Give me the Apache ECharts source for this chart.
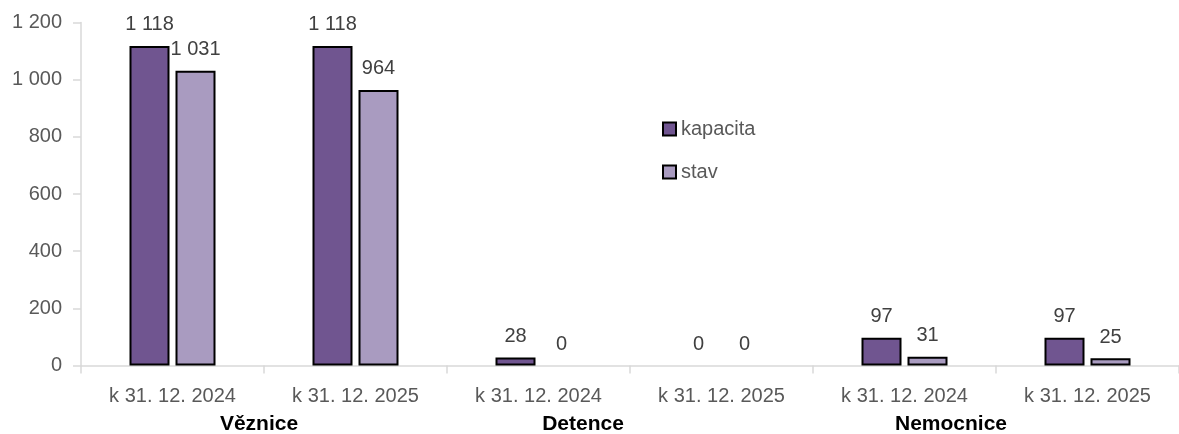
<!DOCTYPE html>
<html>
<head>
<meta charset="utf-8">
<script src="https://cdn.jsdelivr.net/npm/echarts@6/dist/echarts.min.js"></script>
<style>
  html, body { margin: 0; padding: 0; background: #fff; }
  #chart { width: 1179px; height: 434px; }
</style>
</head>
<body>
<div id="chart"></div>
<script>
// Data
const categories = ['k 31. 12. 2024', 'k 31. 12. 2025', 'k 31. 12. 2024', 'k 31. 12. 2025', 'k 31. 12. 2024', 'k 31. 12. 2025'];
const kapacita = [1118, 1118, 28, 0, 97, 97];
const stav = [1031, 964, 0, 0, 31, 25];
const groups = ['Věznice', 'Detence', 'Nemocnice'];
const groupX = [259, 583, 951];

const FONT = '"Liberation Sans", Arial, sans-serif';
const GREY = '#595959';

const fmt = v => String(v).replace(/\B(?=(\d{3})+(?!\d))/g, ' ');

// zero-height bars should not show their border
const toData = arr => arr.map(v => v === 0 ? { value: v, itemStyle: { borderWidth: 0 } } : v);

const chart = echarts.init(document.getElementById('chart'), null, { renderer: 'canvas' });

const label = {
  show: true,
  position: 'top',
  distance: 11,
  color: '#404040',
  fontFamily: FONT,
  fontSize: 20,
  formatter: p => fmt(p.value)
};

chart.setOption({
  animation: false,
  textStyle: { fontFamily: FONT },
  grid: { left: 81, top: 22.5, width: 1110, bottom: 68.5 },
  legend: {
    orient: 'vertical',
    left: 657,
    top: 114,
    itemWidth: 13,
    itemHeight: 13,
    itemGap: 23,
    icon: 'rect',
    textStyle: { color: GREY, fontFamily: FONT, fontSize: 20 },
    data: ['kapacita', 'stav']
  },
  xAxis: {
    type: 'category',
    data: categories,
    axisLine: { lineStyle: { color: '#d9d9d9', width: 1.5 } },
    axisTick: { show: true, length: 8, lineStyle: { color: '#d9d9d9', width: 1.5 } },
    axisLabel: { color: GREY, fontFamily: FONT, fontSize: 20, margin: 21, interval: 0 }
  },
  yAxis: {
    type: 'value',
    min: 0,
    max: 1200,
    interval: 200,
    splitLine: { show: false },
    axisLine: { show: true, lineStyle: { color: '#d9d9d9', width: 1.5 } },
    axisTick: { show: true, length: 8, lineStyle: { color: '#d9d9d9', width: 1.5 } },
    axisLabel: { color: GREY, fontFamily: FONT, fontSize: 20, margin: 19, formatter: fmt }
  },
  series: [
    {
      name: 'kapacita',
      type: 'bar',
      barWidth: 40,
      barGap: '15%',
      itemStyle: { color: '#705590', borderColor: '#000', borderWidth: 2 },
      label: label,
      data: toData(kapacita)
    },
    {
      name: 'stav',
      type: 'bar',
      barWidth: 40,
      itemStyle: { color: '#A99BC0', borderColor: '#000', borderWidth: 2 },
      label: label,
      data: toData(stav)
    }
  ],
  graphic: groups.map((g, i) => ({
    type: 'text',
    x: groupX[i],
    y: 424,
    style: {
      text: g,
      fill: '#000',
      font: 'bold 21px ' + FONT,
      align: 'center',
      verticalAlign: 'middle'
    }
  }))
});
</script>
</body>
</html>
